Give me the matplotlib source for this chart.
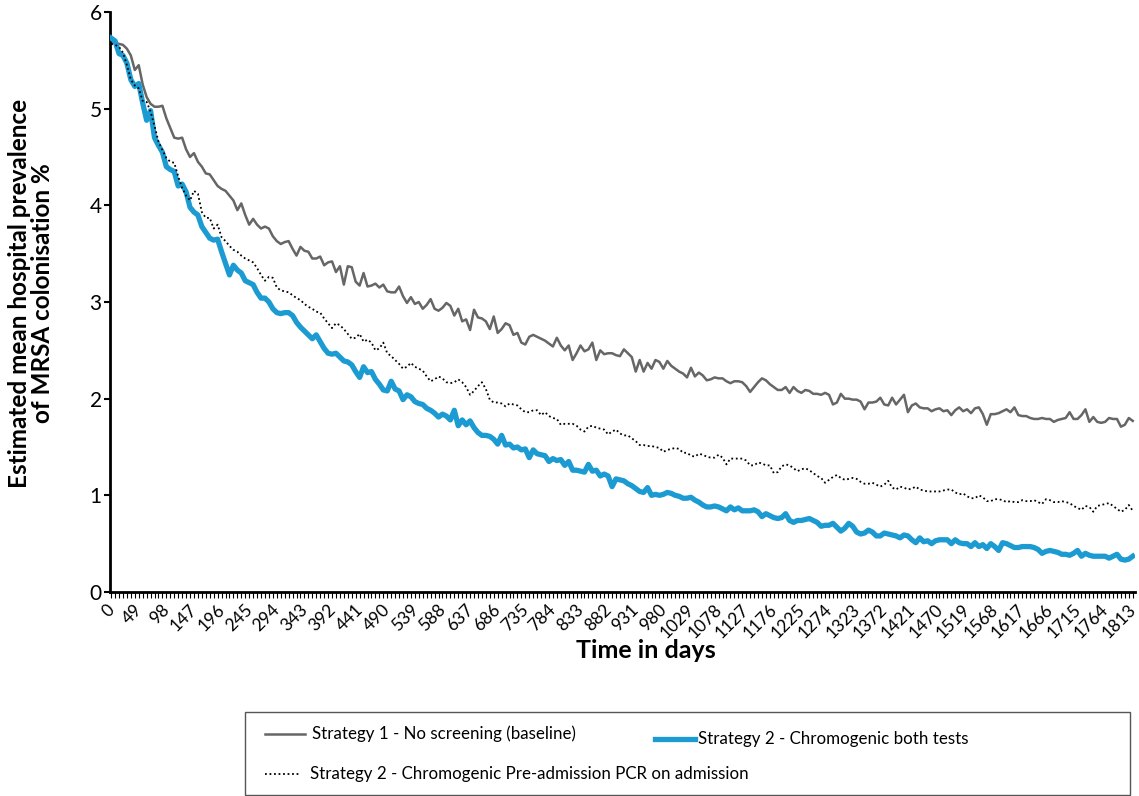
import numpy as np
import matplotlib
matplotlib.use("Agg")
import matplotlib.pyplot as plt
from matplotlib.lines import Line2D
from matplotlib.patches import Rectangle
from matplotlib.transforms import ScaledTranslation

# weekly model output, day 0 .. 1813
days = np.arange(0, 1814, 7)

no_screening = [
    5.68, 5.68, 5.67, 5.66, 5.62, 5.55, 5.40, 5.45, 5.25, 5.12,
    5.05, 5.02, 5.02, 5.03, 4.90, 4.80, 4.70, 4.69, 4.70, 4.58,
    4.50, 4.54, 4.45, 4.40, 4.33, 4.32, 4.26, 4.20, 4.17, 4.15,
    4.10, 4.05, 3.95, 4.02, 3.90, 3.80, 3.86, 3.80, 3.76, 3.78,
    3.76, 3.68, 3.63, 3.60, 3.62, 3.63, 3.55, 3.48, 3.57, 3.53,
    3.52, 3.45, 3.45, 3.47, 3.38, 3.41, 3.42, 3.31, 3.37, 3.18,
    3.37, 3.36, 3.21, 3.17, 3.30, 3.16, 3.17, 3.19, 3.15, 3.18,
    3.11, 3.10, 3.10, 3.16, 3.06, 2.99, 3.05, 2.98, 3.00, 2.93,
    2.97, 3.03, 2.93, 2.91, 2.94, 2.99, 2.96, 2.86, 2.93, 2.80,
    2.82, 2.71, 2.92, 2.84, 2.83, 2.80, 2.72, 2.85, 2.68, 2.72,
    2.78, 2.76, 2.66, 2.68, 2.58, 2.56, 2.64, 2.66, 2.64, 2.62,
    2.60, 2.57, 2.54, 2.63, 2.55, 2.50, 2.55, 2.40, 2.47, 2.55,
    2.49, 2.51, 2.58, 2.40, 2.50, 2.46, 2.47, 2.47, 2.45, 2.44,
    2.51, 2.47, 2.43, 2.28, 2.40, 2.28, 2.37, 2.31, 2.40, 2.38,
    2.31, 2.39, 2.34, 2.31, 2.28, 2.26, 2.22, 2.32, 2.23, 2.27,
    2.24, 2.19, 2.20, 2.22, 2.21, 2.21, 2.18, 2.16, 2.18, 2.18,
    2.17, 2.13, 2.07, 2.12, 2.17, 2.21, 2.19, 2.15, 2.12, 2.09,
    2.09, 2.12, 2.06, 2.12, 2.08, 2.06, 2.09, 2.08, 2.05, 2.05,
    2.04, 2.06, 2.04, 1.94, 1.96, 2.05, 2.00, 2.00, 1.99, 1.99,
    1.97, 1.89, 1.96, 1.96, 1.97, 2.01, 1.94, 1.93, 2.01, 1.94,
    1.99, 2.04, 1.86, 1.93, 1.95, 1.91, 1.90, 1.90, 1.87, 1.89,
    1.90, 1.87, 1.88, 1.83, 1.88, 1.91, 1.87, 1.89, 1.85, 1.90,
    1.91, 1.84, 1.73, 1.84, 1.84, 1.85, 1.87, 1.89, 1.86, 1.91,
    1.83, 1.82, 1.82, 1.80, 1.79, 1.79, 1.80, 1.79, 1.79, 1.76,
    1.78, 1.79, 1.80, 1.86, 1.79, 1.79, 1.83, 1.89, 1.76, 1.81,
    1.76, 1.75, 1.76, 1.80, 1.79, 1.79, 1.71, 1.73, 1.80, 1.77,
]

both_tests = [
    5.73, 5.70, 5.57, 5.55, 5.47, 5.30, 5.23, 5.26, 5.06, 4.88,
    4.98, 4.70, 4.62, 4.55, 4.40, 4.37, 4.35, 4.20, 4.22, 4.14,
    3.98, 3.93, 3.90, 3.78, 3.72, 3.66, 3.64, 3.65, 3.52, 3.40,
    3.28, 3.38, 3.33, 3.30, 3.22, 3.20, 3.18, 3.10, 3.04, 3.04,
    3.00, 2.93, 2.89, 2.88, 2.89, 2.89, 2.86, 2.79, 2.74, 2.70,
    2.66, 2.62, 2.66, 2.59, 2.52, 2.47, 2.46, 2.47, 2.43, 2.39,
    2.38, 2.35, 2.28, 2.22, 2.33, 2.27, 2.28, 2.20, 2.15, 2.09,
    2.08, 2.18, 2.10, 2.08, 1.99, 2.04, 2.02, 1.97, 1.95, 1.94,
    1.90, 1.88, 1.85, 1.81, 1.84, 1.82, 1.78, 1.88, 1.72, 1.78,
    1.73, 1.77, 1.70, 1.65, 1.62, 1.62, 1.61, 1.58, 1.53, 1.62,
    1.52, 1.53, 1.49, 1.50, 1.47, 1.48, 1.39, 1.47, 1.43, 1.42,
    1.41, 1.35, 1.38, 1.36, 1.37, 1.31, 1.35, 1.26, 1.26, 1.25,
    1.24, 1.32, 1.25, 1.26, 1.20, 1.22, 1.20, 1.09, 1.17, 1.16,
    1.15, 1.12, 1.10, 1.07, 1.04, 1.03, 1.08, 1.00, 1.01, 1.00,
    1.01, 1.03, 1.02, 1.00, 0.99, 0.97, 0.97, 0.98, 0.95, 0.93,
    0.90, 0.88, 0.88, 0.89, 0.88, 0.86, 0.84, 0.88, 0.85, 0.87,
    0.84, 0.84, 0.84, 0.85, 0.83, 0.78, 0.81, 0.79, 0.77, 0.76,
    0.77, 0.81, 0.74, 0.72, 0.74, 0.74, 0.75, 0.76, 0.74, 0.72,
    0.68, 0.69, 0.69, 0.71, 0.67, 0.63, 0.66, 0.71, 0.68, 0.62,
    0.60, 0.61, 0.64, 0.62, 0.58, 0.58, 0.61, 0.60, 0.59, 0.58,
    0.56, 0.59, 0.58, 0.54, 0.51, 0.56, 0.52, 0.53, 0.50, 0.53,
    0.54, 0.54, 0.54, 0.50, 0.54, 0.51, 0.50, 0.50, 0.47, 0.51,
    0.47, 0.49, 0.45, 0.50, 0.47, 0.43, 0.51, 0.50, 0.48, 0.46,
    0.46, 0.47, 0.47, 0.47, 0.46, 0.44, 0.40, 0.42, 0.43, 0.42,
    0.41, 0.39, 0.39, 0.38, 0.40, 0.43, 0.37, 0.40, 0.38, 0.37,
    0.37, 0.37, 0.37, 0.35, 0.37, 0.39, 0.34, 0.33, 0.34, 0.37,
]

preadm_pcr = [
    5.67, 5.66, 5.64, 5.58, 5.45, 5.30, 5.24, 5.21, 5.08, 5.07,
    4.97, 4.82, 4.66, 4.57, 4.49, 4.45, 4.44, 4.30, 4.18, 4.10,
    4.05, 4.15, 4.12, 3.93, 3.87, 3.87, 3.76, 3.80, 3.67, 3.63,
    3.58, 3.54, 3.52, 3.48, 3.45, 3.43, 3.41, 3.35, 3.28, 3.22,
    3.26, 3.25, 3.15, 3.12, 3.11, 3.10, 3.07, 3.04, 3.02, 2.98,
    2.95, 2.93, 2.90, 2.89, 2.83, 2.78, 2.73, 2.78, 2.76, 2.72,
    2.67, 2.62, 2.63, 2.67, 2.59, 2.61, 2.58, 2.50, 2.52, 2.58,
    2.47, 2.44, 2.40, 2.36, 2.31, 2.33, 2.37, 2.33, 2.31, 2.29,
    2.23, 2.18, 2.20, 2.23, 2.21, 2.17, 2.16, 2.17, 2.20, 2.17,
    2.12, 2.04, 2.08, 2.13, 2.17, 2.10, 1.99, 1.96, 1.96, 1.95,
    1.92, 1.95, 1.94, 1.93, 1.89, 1.86, 1.86, 1.88, 1.88, 1.83,
    1.86, 1.82, 1.80, 1.79, 1.73, 1.74, 1.74, 1.74, 1.72, 1.68,
    1.66, 1.71, 1.72, 1.70, 1.69, 1.68, 1.63, 1.66, 1.68, 1.64,
    1.62, 1.62, 1.59, 1.56, 1.52, 1.52, 1.51, 1.51, 1.50, 1.49,
    1.45, 1.47, 1.48, 1.49, 1.48, 1.44, 1.44, 1.41, 1.40, 1.43,
    1.42, 1.40, 1.39, 1.39, 1.42, 1.39, 1.32, 1.38, 1.38, 1.38,
    1.38, 1.36, 1.31, 1.31, 1.34, 1.33, 1.31, 1.31, 1.23, 1.24,
    1.30, 1.32, 1.31, 1.28, 1.25, 1.27, 1.28, 1.26, 1.23, 1.20,
    1.18, 1.13, 1.16, 1.19, 1.21, 1.18, 1.16, 1.17, 1.18, 1.17,
    1.14, 1.12, 1.12, 1.13, 1.11, 1.09, 1.11, 1.15, 1.08, 1.06,
    1.09, 1.08, 1.06, 1.07, 1.09, 1.06, 1.05, 1.04, 1.04, 1.04,
    1.04, 1.05, 1.06, 1.06, 1.03, 1.01, 1.02, 0.99, 0.97, 0.97,
    1.00, 0.98, 0.94, 0.94, 0.96, 0.96, 0.95, 0.93, 0.94, 0.93,
    0.93, 0.95, 0.94, 0.94, 0.95, 0.93, 0.91, 0.96, 0.95, 0.93,
    0.93, 0.94, 0.93, 0.92, 0.89, 0.87, 0.85, 0.89, 0.88, 0.83,
    0.89, 0.90, 0.91, 0.92, 0.89, 0.86, 0.83, 0.85, 0.90, 0.84,
]

labels = ['Strategy 1 - No screening (baseline)',
          'Strategy 2 - Chromogenic both tests',
          'Strategy 2 - Chromogenic Pre-admission PCR on admission']

tick_days = days[::7]

plt.rcParams['font.family'] = ['Lato', 'DejaVu Sans']

W, H = 1139, 796
fig = plt.figure(figsize=(W / 100, H / 100), dpi=100)
ax = fig.add_axes([110 / W, 1 - 592 / H, 1025 / W, 580 / H])

styles = [dict(color='#666666', lw=1.8, zorder=2),
          dict(color='#1b9bd1', lw=3.8, zorder=3),
          dict(color='black', lw=1.3, ls=(0, (1, 1.5)), zorder=4)]
for vals, st in zip([no_screening, both_tests, preadm_pcr], styles):
    ax.plot(days, vals, **st)

ax.set_xlim(-2, 1817)
ax.set_ylim(0, 6)
ax.set_yticks(range(7))
ax.tick_params(axis='y', labelsize=15, width=1.5, length=4, pad=2, direction='out')

ax.set_xticks(tick_days)
ax.set_xticklabels([str(d) for d in tick_days], rotation=45, ha='right',
                   rotation_mode='anchor', fontsize=12.5)
ax.set_xticks(days, minor=True)
ax.tick_params(axis='x', which='both', length=4, width=0.8, direction='out', pad=3)
shift = ScaledTranslation(-5 / 100, 0, fig.dpi_scale_trans)
for lab in ax.get_xticklabels():
    lab.set_transform(lab.get_transform() + shift)

for side in ['top', 'right']:
    ax.spines[side].set_visible(False)
for side in ['left', 'bottom']:
    ax.spines[side].set_linewidth(2)

# axis titles
fig.text(646 / W, 1 - 651 / H, 'Time in days', fontsize=18, fontweight='bold',
         ha='center', va='center')
fig.text(31 / W, 1 - 293 / H, 'Estimated mean hospital prevalence\nof MRSA colonisation %',
         fontsize=17.5, fontweight='bold', rotation=90, ha='center', va='center',
         linespacing=1.0)

# legend box drawn as in the original layout
fig.add_artist(Rectangle((245 / W, 1 - 795 / H), 885 / W, 83 / H, transform=fig.transFigure,
                         fill=False, edgecolor='#555555', lw=1.0))
entries = [(265, 305, 734, 312), (655, 695, 739, 698), (265, 301, 774, 310)]
for (x0, x1, y, tx), st, lab in zip(entries, styles, labels):
    st2 = {k: v for k, v in st.items() if k != 'zorder'}
    fig.add_artist(Line2D([x0 / W, x1 / W], [1 - y / H, 1 - y / H],
                          transform=fig.transFigure, **st2))
    fig.text(tx / W, 1 - y / H, lab, fontsize=12.2, ha='left', va='center')

fig.savefig('out.png', dpi=100)
